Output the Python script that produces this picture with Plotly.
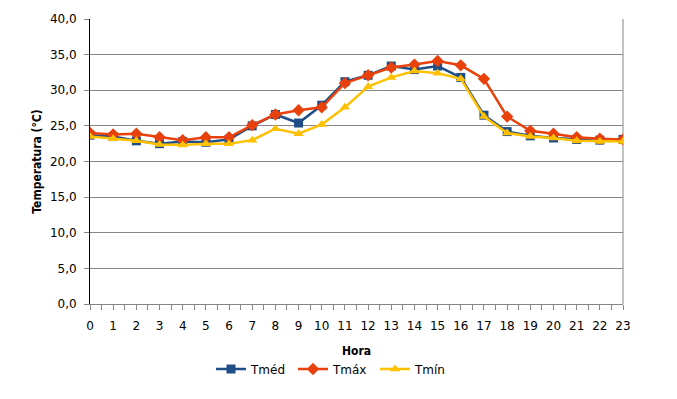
import plotly.graph_objects as go

horas = list(range(24))
tmed = [23.7, 23.5, 22.9, 22.5, 22.8, 22.7, 23.1, 25.0, 26.6, 25.4, 27.9, 31.2,
        32.1, 33.4, 32.9, 33.4, 31.8, 26.5, 24.2, 23.6, 23.3, 23.1, 23.0, 23.1]
tmax = [24.0, 23.8, 23.9, 23.4, 23.0, 23.4, 23.4, 25.1, 26.6, 27.2, 27.6, 31.0,
        32.1, 33.2, 33.6, 34.1, 33.5, 31.6, 26.3, 24.3, 23.9, 23.4, 23.2, 23.1]
tmin = [23.5, 23.2, 22.9, 22.4, 22.3, 22.5, 22.5, 23.0, 24.6, 23.9, 25.2, 27.6,
        30.5, 31.8, 32.7, 32.4, 31.6, 26.3, 24.0, 23.5, 23.3, 22.9, 22.8, 22.8]

series = [
    ("Tméd", tmed, "#1F4E87", "square", 9),
    ("Tmáx", tmax, "#E8410C", "diamond", 9.5),
    ("Tmín", tmin, "#FFC000", "triangle-up", 9),
]

font = "DejaVu Sans"
tfont = "DejaVu Sans Condensed, DejaVu Sans"
fig = go.Figure()
for name, vals, col, sym, sz in series:
    fig.add_trace(go.Scatter(
        x=horas, y=vals, name=name, mode="lines+markers",
        line=dict(color=col, width=2.5),
        marker=dict(symbol=sym, size=sz, color=col),
    ))

# page body has an 8px margin: plot area target 90..623 x 19..304 on screen
fig.update_layout(
    width=677, height=399,
    margin=dict(l=82, r=62, t=11, b=103, autoexpand=False),
    paper_bgcolor="white", plot_bgcolor="white",
    separators=",.",
    font=dict(family=font, size=12, color="black"),
    showlegend=True,
    legend=dict(orientation="h", x=(203 - 82) / 533, xanchor="left", y=-65 / 285, yanchor="middle",
                font=dict(family=font, size=12), entrywidth=37, entrywidthmode="pixels",
                tracegroupgap=0),
    xaxis=dict(
        range=[0, 23], tickmode="array", tickvals=horas, ticktext=[str(h) for h in horas],
        showgrid=False, showline=True, linecolor="#868686", linewidth=1,
        ticks="outside", ticklen=5, tickcolor="#868686",
        minor=dict(ticks="outside", ticklen=5, tickcolor="#868686", dtick=0.5, tick0=0),
        tickfont=dict(family=font, size=12), automargin=False, ticklabelstandoff=6,
        title=dict(text="<b>Hora</b>", font=dict(family=tfont, size=12), standoff=14),
        mirror=False, zeroline=False,
    ),
    yaxis=dict(
        range=[0, 40], dtick=5, tickformat=".1f",
        showgrid=True, gridcolor="#868686", gridwidth=1,
        showline=True, linecolor="black", linewidth=1,
        ticks="outside", ticklen=5, tickcolor="#868686",
        tickfont=dict(family=font, size=12), automargin=False, ticklabelstandoff=5,
        title=dict(text="<b>Temperatura (°C)</b>", font=dict(family=tfont, size=12), standoff=5),
        zeroline=False,
    ),
)
# right border of plot area
fig.add_shape(type="line", xref="paper", yref="paper", x0=1, x1=1, y0=0, y1=1,
              line=dict(color="#868686", width=1), layer="below")

fig.write_html("out.html")
